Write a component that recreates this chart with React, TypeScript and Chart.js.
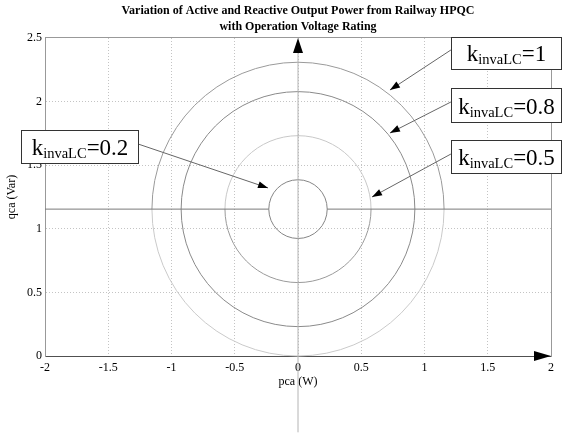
import React, { useEffect, useRef } from 'react';
import { Chart, registerables } from 'chart.js';

Chart.register(...registerables);

// ---- data ----
const kLabels = ['1', '0.8', '0.5', '0.2'];
const circleRadii = [1.1547, 0.9238, 0.5774, 0.2309];
const circleCenterP = 0;
const circleCenterQ = 1.1547;

const hLineLeftP = [-2, -0.2309];
const hLineRightP = [0.2309, 2];
const hLineQ = 1.1547;

const vLineP = [0, 0];
const vLineQ = [-0.6, 2.45];

const xTickValues = [-2, -1.5, -1, -0.5, 0, 0.5, 1, 1.5, 2];
const xTickLabels = ['-2', '-1.5', '-1', '-0.5', '0', '0.5', '1', '1.5', '2'];
const yTickValues = [0, 0.5, 1, 1.5, 2, 2.5];
const yTickLabels = ['0', '0.5', '1', '1.5', '2', '2.5'];

// callout arrows (data coordinates): start at the label box, tip near the circle
const calloutFromP = [1.209, 1.209, 1.209, -1.265];
const calloutFromQ = [2.406, 1.997, 1.588, 1.667];
const calloutToP = [0.727, 0.727, 0.585, -0.237];
const calloutToQ = [2.091, 1.753, 1.25, 1.321];

// ---- layout / style (not data) ----
const calloutBoxes = [
  { p1: 1.209, q1: 2.508, p2: 2.079, q2: 2.256 },
  { p1: 1.209, q1: 2.107, p2: 2.079, q2: 1.84 },
  { p1: 1.209, q1: 1.698, p2: 2.079, q2: 1.439 },
  { p1: -2.19, q1: 1.777, p2: -1.265, q2: 1.517 },
];
const circleUpperColors = ['#9a9a9a', '#8a8a8a', '#c8c8c8', '#858585'];
const circleLowerColors = ['#cacaca', '#8a8a8a', '#9a9a9a', '#858585'];

const FONT = "'Liberation Serif', 'Times New Roman', serif";

const hpqcPlugin = {
  id: 'hpqc',
  beforeDatasetsDraw(chart: any) {
    const { ctx, scales } = chart;
    const x = scales.x;
    const y = scales.y;
    const cx = x.getPixelForValue(circleCenterP);
    const cy = y.getPixelForValue(circleCenterQ);
    ctx.save();
    ctx.lineWidth = 1;
    circleRadii.forEach((r, i) => {
      const rx = x.getPixelForValue(circleCenterP + r) - cx;
      const ry = cy - y.getPixelForValue(circleCenterQ + r);
      ctx.strokeStyle = circleUpperColors[i];
      ctx.beginPath();
      ctx.ellipse(cx, cy, rx, ry, 0, Math.PI, 2 * Math.PI);
      ctx.stroke();
      ctx.strokeStyle = circleLowerColors[i];
      ctx.beginPath();
      ctx.ellipse(cx, cy, rx, ry, 0, 0, Math.PI);
      ctx.stroke();
    });
    ctx.restore();
  },
  afterDraw(chart: any) {
    const { ctx, scales } = chart;
    const x = scales.x;
    const y = scales.y;
    ctx.save();

    const arrowHead = (tx: number, ty: number, fx: number, fy: number, len: number, half: number) => {
      const ang = Math.atan2(ty - fy, tx - fx);
      const bx = tx - Math.cos(ang) * len;
      const by = ty - Math.sin(ang) * len;
      const nx = -Math.sin(ang) * half;
      const ny = Math.cos(ang) * half;
      ctx.beginPath();
      ctx.moveTo(tx, ty);
      ctx.lineTo(bx + nx, by + ny);
      ctx.lineTo(bx - nx, by - ny);
      ctx.closePath();
      ctx.fill();
    };

    // axis arrows
    ctx.fillStyle = '#000';
    const upX = x.getPixelForValue(0);
    const upY = y.getPixelForValue(2.5);
    arrowHead(upX, upY, upX, upY + 20, 15, 5);
    const rtX = x.getPixelForValue(2);
    const rtY = y.getPixelForValue(0);
    arrowHead(rtX, rtY, rtX - 20, rtY, 17, 5);

    // callout arrows
    kLabels.forEach((_, i) => {
      const fx = x.getPixelForValue(calloutFromP[i]);
      const fy = y.getPixelForValue(calloutFromQ[i]);
      const tx = x.getPixelForValue(calloutToP[i]);
      const ty = y.getPixelForValue(calloutToQ[i]);
      ctx.strokeStyle = '#666';
      ctx.lineWidth = 1;
      ctx.beginPath();
      ctx.moveTo(fx, fy);
      ctx.lineTo(tx, ty);
      ctx.stroke();
      ctx.fillStyle = '#000';
      arrowHead(tx, ty, fx, fy, 10, 3.5);
    });

    // callout boxes
    kLabels.forEach((lab, i) => {
      const b = calloutBoxes[i];
      const x1 = Math.round(x.getPixelForValue(b.p1)) + 0.5;
      const x2 = Math.round(x.getPixelForValue(b.p2)) + 0.5;
      const y1 = Math.round(y.getPixelForValue(b.q1)) + 0.5;
      const y2 = Math.round(y.getPixelForValue(b.q2)) + 0.5;
      ctx.fillStyle = '#fff';
      ctx.fillRect(x1, y1, x2 - x1, y2 - y1);
      ctx.strokeStyle = '#333';
      ctx.lineWidth = 1;
      ctx.strokeRect(x1, y1, x2 - x1, y2 - y1);

      const mainFont = `23px ${FONT}`;
      const subFont = `14.5px ${FONT}`;
      ctx.font = mainFont;
      const wK = ctx.measureText('k').width;
      const wEq = ctx.measureText('=' + lab).width;
      ctx.font = subFont;
      const wSub = ctx.measureText('invaLC').width;
      const total = wK + wSub + wEq;
      let tx = (x1 + x2) / 2 - total / 2;
      const base = y2 - 9;
      ctx.fillStyle = '#000';
      ctx.textBaseline = 'alphabetic';
      ctx.textAlign = 'left';
      ctx.font = mainFont;
      ctx.fillText('k', tx, base);
      tx += wK;
      ctx.font = subFont;
      ctx.fillText('invaLC', tx, base + 3);
      tx += wSub;
      ctx.font = mainFont;
      ctx.fillText('=' + lab, tx, base);
    });
    ctx.restore();
  },
};

export default function App() {
  const ref = useRef<HTMLCanvasElement | null>(null);
  useEffect(() => {
    if (!ref.current) return;
    Chart.defaults.font.family = FONT;
    const lineDs = (px: number[], qx: number[], color: string, extra: any = {}) => ({
      data: px.map((p, i) => ({ x: p, y: qx[i] })),
      showLine: true,
      borderColor: color,
      borderWidth: 1,
      pointRadius: 0,
      pointHoverRadius: 0,
      fill: false,
      ...extra,
    });
    const chart = new Chart(ref.current, {
      type: 'scatter',
      data: {
        datasets: [
          lineDs(hLineLeftP, hLineLeftP.map(() => hLineQ), '#7a7a7a'),
          lineDs(hLineRightP, hLineRightP.map(() => hLineQ), '#7a7a7a'),
          lineDs(vLineP, vLineQ, '#b4b4b4', { clip: false }),
        ],
      },
      options: {
        animation: false,
        responsive: false,
        devicePixelRatio: 1,
        events: [],
        layout: { padding: 0 },
        plugins: {
          legend: { display: false },
          tooltip: { enabled: false },
          title: {
            display: true,
            fullSize: false,
            text: [
              'Variation of Active and Reactive Output Power from Railway HPQC',
              'with Operation Voltage Rating',
            ],
            color: '#000',
            font: { family: FONT, size: 12, weight: 'bold', lineHeight: 1.3333 },
            padding: { top: 3, bottom: 3 },
          },
        },
        scales: {
          x: {
            type: 'linear',
            position: 'bottom',
            min: -2,
            max: 2,
            afterBuildTicks: (axis: any) => {
              axis.ticks = xTickValues.map((v) => ({ value: v }));
            },
            afterFit: (axis: any) => {
              axis.height = 83;
            },
            ticks: {
              color: '#000',
              font: { family: FONT, size: 12 },
              padding: 5,
              maxRotation: 0,
              autoSkip: false,
              callback: (_v: any, i: number) => xTickLabels[i],
            },
            grid: { color: '#c4c4c4', lineWidth: 1, drawTicks: false },
            border: { display: true, color: '#505050', width: 1, dash: [1, 2] },
            title: {
              display: true,
              text: 'pca (W)',
              color: '#000',
              font: { family: FONT, size: 12 },
              padding: { top: 0, bottom: 50.3 },
            },
          },
          x2: {
            type: 'linear',
            position: 'top',
            min: -2,
            max: 2,
            afterFit: (axis: any) => {
              axis.height = 0;
            },
            ticks: { display: false },
            grid: { display: false, drawTicks: false },
            border: { display: true, color: '#999', width: 1 },
          },
          y: {
            type: 'linear',
            position: 'left',
            min: 0,
            max: 2.5,
            afterBuildTicks: (axis: any) => {
              axis.ticks = yTickValues.map((v) => ({ value: v }));
            },
            afterFit: (axis: any) => {
              axis.width = 45;
            },
            ticks: {
              color: '#000',
              font: { family: FONT, size: 12 },
              padding: 3,
              autoSkip: false,
              callback: (_v: any, i: number) => yTickLabels[i],
            },
            grid: { color: '#c4c4c4', lineWidth: 1, drawTicks: false },
            border: { display: true, color: '#999', width: 1, dash: [1, 2] },
            title: {
              display: true,
              text: 'qca (Var)',
              color: '#000',
              font: { family: FONT, size: 12 },
              padding: { top: 4.5, bottom: 0 },
            },
          },
          y2: {
            type: 'linear',
            position: 'right',
            min: 0,
            max: 2.5,
            afterFit: (axis: any) => {
              axis.width = 11;
            },
            ticks: { display: false },
            grid: { display: false, drawTicks: false },
            border: { display: true, color: '#999', width: 1 },
          },
        },
      } as any,
      plugins: [hpqcPlugin],
    });
    return () => chart.destroy();
  }, []);
  return (
    <div style={{ position: 'absolute', left: 0, top: 0, width: 562, height: 439, background: '#fff' }}>
      <canvas ref={ref} width={562} height={439} style={{ display: 'block', width: 562, height: 439 }} />
    </div>
  );
}
